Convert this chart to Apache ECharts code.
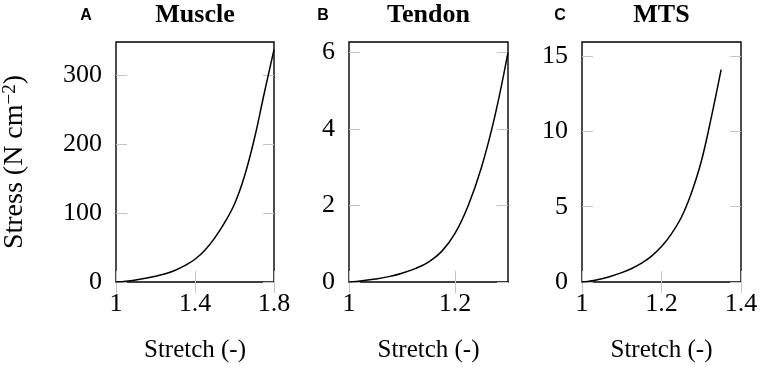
<!DOCTYPE html>
<html>
<head>
<meta charset="utf-8">
<script src="https://cdn.jsdelivr.net/npm/echarts@6/dist/echarts.min.js"></script>
<style>html,body{margin:0;padding:0;background:#fff}#c{width:765px;height:368px}</style>
</head>
<body>
<div id="c"></div>
<script>
// Panel A – Muscle
const muscleStretch = [1.0, 1.05, 1.1, 1.15, 1.2, 1.25, 1.3, 1.35, 1.4, 1.45, 1.5, 1.55, 1.6, 1.65, 1.7, 1.75, 1.8];
const muscleStress  = [0, 1.2, 3, 5.3, 8.3, 12, 17, 24, 33, 46, 64, 86, 113, 153, 207, 273, 337];
// Panel B – Tendon
const tendonStretch = [1.0, 1.025, 1.05, 1.075, 1.1, 1.125, 1.15, 1.175, 1.2, 1.225, 1.25, 1.275, 1.3];
const tendonStress  = [0, 0.035, 0.08, 0.14, 0.23, 0.35, 0.52, 0.8, 1.27, 2.0, 3.0, 4.32, 6.0];
// Panel C – MTS
const mtsStretch = [1.0, 1.025, 1.05, 1.075, 1.1, 1.125, 1.15, 1.175, 1.2, 1.225, 1.25, 1.275, 1.3, 1.325, 1.35];
const mtsStress  = [0, 0.08, 0.22, 0.4, 0.62, 0.9, 1.25, 1.72, 2.35, 3.2, 4.3, 5.9, 8.0, 10.9, 14.1];

// Tick values / labels
const xTicksA = [1, 1.4, 1.8];
const yTicksA = [0, 100, 200, 300];
const xTicksB = [1, 1.2];
const yTicksB = [0, 2, 4, 6];
const xTicksC = [1, 1.2, 1.4];
const yTicksC = [0, 5, 10, 15];

const titles = ['Muscle', 'Tendon', 'MTS'];
const letters = ['A', 'B', 'C'];
const xName = 'Stretch (-)';

const SERIF = 'Liberation Serif';
const SANS = 'Liberation Sans';

const panels = [
  {left: 116, width: 158, xmin: 1, xmax: 1.8, ymax: 348, xt: xTicksA, yt: yTicksA, xs: muscleStretch, ys: muscleStress, letterX: 86},
  {left: 349, width: 159, xmin: 1, xmax: 1.3, ymax: 6.27, xt: xTicksB, yt: yTicksB, xs: tendonStretch, ys: tendonStress, letterX: 323},
  {left: 582, width: 159, xmin: 1, xmax: 1.4, ymax: 15.94, xt: xTicksC, yt: yTicksC, xs: mtsStretch, ys: mtsStress, letterX: 560}
];
const TOP = 42, HEIGHT = 242;

const grid = [], xAxis = [], yAxis = [], series = [], graphic = [];
const tickStyle = {show: true, inside: true, length: 11, lineStyle: {color: '#c4c4c4', width: 1}};

panels.forEach((p, i) => {
  grid.push({left: p.left, top: TOP, width: p.width, height: HEIGHT, show: true,
    borderColor: '#000', borderWidth: 1.4, backgroundColor: 'transparent', containLabel: false});
  xAxis.push({type: 'value', gridIndex: i, min: p.xmin, max: p.xmax, position: 'bottom',
    splitLine: {show: false}, axisLine: {show: false},
    axisTick: Object.assign({customValues: p.xt}, tickStyle),
    axisLabel: {customValues: p.xt, margin: 9, fontFamily: SERIF, fontSize: 26, color: '#000'},
    name: xName, nameLocation: 'middle', nameGap: 56,
    nameTextStyle: {fontFamily: SERIF, fontSize: 25, color: '#000'}});
  xAxis.push({type: 'value', gridIndex: i, min: p.xmin, max: p.xmax, position: 'top',
    splitLine: {show: false}, axisLine: {show: false},
    axisTick: Object.assign({customValues: p.xt}, tickStyle), axisLabel: {show: false}});
  const yl = {type: 'value', gridIndex: i, min: 0, max: p.ymax, position: 'left',
    splitLine: {show: false}, axisLine: {show: false},
    axisTick: Object.assign({customValues: p.yt}, tickStyle),
    axisLabel: {customValues: p.yt, margin: 14, fontFamily: SERIF, fontSize: 26, color: '#000'}};
  if (i === 0) {
    yl.name = '{a|Stress (N cm}{s|\u22122}{a|)}';
    yl.nameLocation = 'middle';
    yl.nameGap = 87;
    yl.nameTextStyle = {rich: {
      a: {fontFamily: SERIF, fontSize: 28, color: '#000'},
      s: {fontFamily: SERIF, fontSize: 19, color: '#000', verticalAlign: 'top'}
    }};
  }
  yAxis.push(yl);
  yAxis.push({type: 'value', gridIndex: i, min: 0, max: p.ymax, position: 'right',
    splitLine: {show: false}, axisLine: {show: false},
    axisTick: Object.assign({customValues: p.yt}, tickStyle), axisLabel: {show: false}});

  series.push({type: 'line', xAxisIndex: 2 * i, yAxisIndex: 2 * i,
    data: p.xs.map((x, k) => [x, p.ys[k]]),
    smooth: 0.4, showSymbol: false, symbol: 'none',
    lineStyle: {color: '#000', width: 1.5}, silent: true, animation: false});

  graphic.push({type: 'text', x: p.left + p.width / 2, y: 2,
    style: {text: titles[i], font: 'bold 26px "' + SERIF + '"', fill: '#000', textAlign: 'center', textVerticalAlign: 'top'}});
  graphic.push({type: 'text', x: p.letterX, y: 8,
    style: {text: letters[i], font: 'bold 16px "' + SANS + '"', fill: '#000', textAlign: 'center', textVerticalAlign: 'top'}});
});

const chart = echarts.init(document.getElementById('c'), null, {renderer: 'canvas'});
chart.setOption({animation: false, backgroundColor: '#fff', grid, xAxis, yAxis, series, graphic});
</script>
</body>
</html>
